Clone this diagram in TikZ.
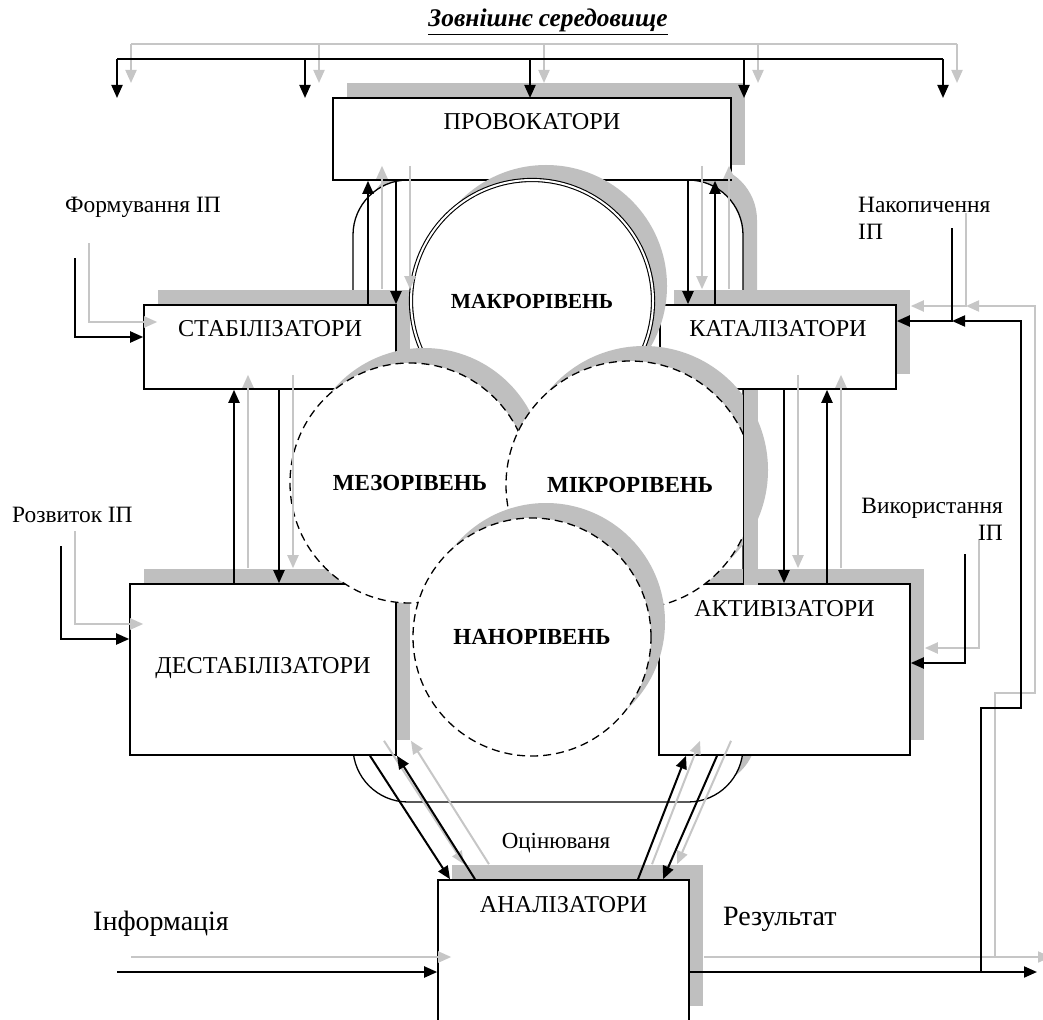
\documentclass[tikz,border=0pt]{standalone}
\usepackage{fontspec}
\setmainfont{Liberation Serif}
\usepackage{tikz}
\usetikzlibrary{positioning,calc,arrows.meta,shadows}

\newcommand\boxfont{\fontsize{24.2}{28}\selectfont}
\newcommand\tierfont{\fontsize{23}{26}\selectfont\bfseries}
\newcommand\notefont{\fontsize{23.4}{27}\selectfont}
\newcommand\bigfont{\fontsize{28}{32}\selectfont}
\newcommand\titlefont{\fontsize{25.4}{29}\selectfont\bfseries\itshape}

% every connector of the scheme: drawn once as grey shadow, once in black
\newcommand\connectors{%
  % external environment
  \draw[link] (env w) -- (env e);
  \foreach \x in {117,305,530,744,943}
    \draw[arrow] (\x,0 |- env w) -- ++(0,39);
  % exchange with the provokers
  \draw[arrow] (368,0 |- stab.north) -- (368,0 |- provok.south);
  \draw[arrow] (396,0 |- provok.south) -- (396,0 |- stab.north);
  \draw[arrow] (688,0 |- provok.south) -- (688,0 |- katal.north);
  \draw[arrow] (715,0 |- katal.north) -- (715,0 |- provok.south);
  % vertical exchange
  \draw[arrow] (234,0 |- destab.north) -- (234,0 |- stab.south);
  \draw[arrow] (279,0 |- stab.south) -- (279,0 |- destab.north);
  \draw[arrow] (784,0 |- katal.south) -- (784,0 |- aktyv.north);
  \draw[arrow] (827,0 |- aktyv.north) -- (827,0 |- katal.south);
  % evaluation
  \draw[arrow] (370,0 |- destab.south) -- (450,0 |- analiz.north);
  \draw[arrow] (475,0 |- analiz.north) -- (397,0 |- destab.south);
  \draw[arrow] (638,0 |- analiz.north) -- (686,0 |- aktyv.south);
  \draw[arrow] (717,0 |- aktyv.south) -- (663,0 |- analiz.north);
  % inputs
  \draw[arrow] (form in) |- ([yshift=10pt]stab.west);
  \draw[arrow] (rozv in) |- ([yshift=30.5pt]destab.west);
  \draw[arrow] (nakop in) |- ([yshift=26pt]katal.east);
  \draw[arrow] (vykor in) |- ([yshift=6.5pt]aktyv.east);
  \draw[arrow] (info in) -- ([yshift=-21.5pt]analiz.west);
  % result and its feedback
  \draw[arrow] ([yshift=-21.5pt]analiz.east) -- (out end);
  \draw[arrow] (fb) |- (1021,708) |- (junc);
}

\begin{document}
\begin{tikzpicture}[
  x=1pt, y=-1pt,
  boxshadow/.style={drop shadow={shadow xshift=14pt, shadow yshift=15pt, opacity=1, fill=gray!50}},
  box/.style={draw, fill=white, line width=1.6pt, inner sep=0pt, font=\boxfont, boxshadow},
  rim/.style={draw, fill=white, line width=1.3pt, rounded corners=55pt, boxshadow},
  tier/.style={circle, draw, fill=white, line width=1.3pt, inner sep=0pt, font=\tierfont, boxshadow},
  ring/.style={tier, dash pattern=on 8pt off 5pt},
  note/.style={inner sep=0pt, font=\notefont},
  ink/.style={draw=black},
  link/.style={ink, line width=2pt},
  arrow/.style={ink, line width=2pt, -{Triangle[length=13pt, width=11pt]}}
]
\useasboundingbox (0,0) rectangle (1043,1019);

% frame joining the blocks round the levels
\node[rim, minimum width=390pt, minimum height=622pt] (frame) at (548,491) {};

% functional blocks
\node[box, minimum width=398pt, minimum height=82pt, text height=32pt, text depth=50pt] (provok) at (532,139) {ПРОВОКАТОРИ};
\node[box, minimum width=252pt, minimum height=84pt, text height=31pt, text depth=53pt] (stab) at (270,347) {СТАБІЛІЗАТОРИ};
\node[box, minimum width=236pt, minimum height=84pt, text height=31pt, text depth=53pt] (katal) at (778,347) {КАТАЛІЗАТОРИ};
\node[box, minimum width=266pt, minimum height=171pt, text height=89pt, text depth=82pt] (destab) at (263,669.5) {ДЕСТАБІЛІЗАТОРИ};
\node[box, minimum width=251pt, minimum height=171pt, text height=32pt, text depth=139pt] (aktyv) at (784.5,669.5) {АКТИВІЗАТОРИ};
\node[box, minimum width=251pt, minimum height=141pt, text height=32pt, text depth=109pt] (analiz) at (563.5,950.5) {АНАЛІЗАТОРИ};

% levels
\node[tier, double, line width=1.1pt, double distance=2pt, minimum size=242pt,
      font=\fontsize{21.5}{25}\selectfont\bfseries] (makro) at (532,301) {МАКРОРІВЕНЬ};
\node[ring, minimum size=240pt] (mezo) at (410,483) {МЕЗОРІВЕНЬ};
\node[ring, minimum size=248pt] (mikro) at (630,485) {МІКРОРІВЕНЬ};
% right side of the frame stays in front of the micro level
\fill[gray!50] (frame.east |- katal.south) rectangle ++(14,195);
\draw[line width=1.3pt] (frame.east |- katal.south) -- (frame.east |- aktyv.north);
\node[ring, minimum size=238pt] (nano) at (532,637) {НАНОРІВЕНЬ};

% free ends of the connectors
\coordinate (env w) at (117,59);
\coordinate (env e) at (943,59);
\coordinate (form in) at (75,258);
\coordinate (rozv in) at (61,546);
\coordinate (nakop in) at (952,228);
\coordinate (junc) at (952,321);
\coordinate (vykor in) at (965,554);
\coordinate (info in) at (117,972);
\coordinate (fb) at (981,972);
\coordinate (out end) at (1037,972);

% shadow of the connectors, then the connectors
\begin{scope}[transform canvas={shift={(14pt,15pt)}}, ink/.style={draw=gray!45}]
  \connectors
\end{scope}
\connectors

% texts
\node[note, font=\titlefont, anchor=base] (title) at (548,27) {\underline{Зовнішнє середовище}};
\node[note, anchor=base west] (form) at (65,212) {Формування ІП};
\node[note, anchor=base west] (rozv) at (12,522) {Розвиток ІП};
\node[note, anchor=north west, align=left] (nakop) at (858,197) {Накопичення\\ІП};
\node[note, anchor=north east, align=right] (vykor) at (1003,498) {Використання\\ІП};
\node[note, font=\fontsize{23}{27}\selectfont, anchor=base] (ocin) at (556,848) {Оцінюваня};
\node[note, font=\bigfont, anchor=base west] (info) at (93,930) {Інформація};
\node[note, font=\bigfont, anchor=base west] (result) at (723,925) {Результат};
\end{tikzpicture}
\end{document}
